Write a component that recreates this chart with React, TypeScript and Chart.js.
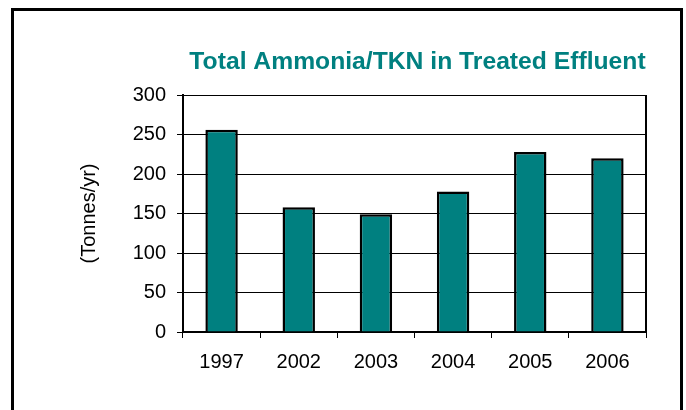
import React, { useEffect, useRef } from "react";
import { Chart, registerables } from "chart.js";

Chart.register(...registerables);

const categories = ["1997", "2002", "2003", "2004", "2005", "2006"];
const values = [256, 158, 149, 178, 228, 220];
const yTicks = [0, 50, 100, 150, 200, 250, 300];
const titleText = "Total Ammonia/TKN in Treated Effluent";
const yTitle = "(Tonnes/yr)";

const FONT = "Arial, 'Liberation Sans', sans-serif";

const framePlugin = {
  id: "framePlugin",
  afterDraw(chart: any) {
    const { ctx, chartArea } = chart;
    ctx.save();
    ctx.strokeStyle = "#000";
    ctx.lineWidth = 2;
    ctx.beginPath();
    ctx.moveTo(chartArea.right, chartArea.top);
    ctx.lineTo(chartArea.right, chartArea.bottom);
    ctx.stroke();
    ctx.fillStyle = "#008080";
    ctx.font = `bold 24.7px ${FONT}`;
    ctx.textAlign = "center";
    ctx.textBaseline = "alphabetic";
    ctx.fillText(titleText, (chartArea.left + chartArea.right) / 2 + 3, 69);
    ctx.restore();
  },
};

export default function App() {
  const ref = useRef<HTMLCanvasElement>(null);
  useEffect(() => {
    if (!ref.current) return;
    const chart = new Chart(ref.current, {
      type: "bar",
      data: {
        labels: categories,
        datasets: [
          {
            data: values,
            backgroundColor: "#008080",
            borderColor: "#000",
            borderWidth: 2.5,
            barPercentage: 0.42,
            categoryPercentage: 1,
          },
        ],
      },
      options: {
        animation: false,
        responsive: true,
        maintainAspectRatio: false,
        layout: { padding: { left: 70, right: 40, top: 95, bottom: 0 } },
        plugins: {
          legend: { display: false },
          title: { display: false },
          tooltip: { enabled: false },
        },
        scales: {
          x: {
            afterFit: (s: any) => {
              s.height = 78;
            },
            grid: {
              drawOnChartArea: false,
              drawTicks: true,
              tickLength: 6,
              color: "#000",
              offset: true,
            },
            border: { color: "#000", width: 2 },
            ticks: {
              color: "#000",
              font: { family: FONT, size: 20 },
              padding: 12,
              maxRotation: 0,
            },
          },
          y: {
            min: 0,
            max: 300,
            afterFit: (s: any) => {
              s.width = 113;
            },
            afterBuildTicks: (s: any) => {
              s.ticks = yTicks.map((v) => ({ value: v }));
            },
            grid: {
              color: "#000",
              lineWidth: 1,
              drawTicks: true,
              tickLength: 6,
            },
            border: { color: "#000", width: 2 },
            ticks: {
              color: "#000",
              font: { family: FONT, size: 20 },
              padding: 11,
            },
            title: {
              display: true,
              text: yTitle,
              color: "#000",
              font: { family: FONT, size: 20 },
              padding: { top: 7, bottom: 0 },
            },
          },
        },
      },
      plugins: [framePlugin],
    });
    return () => chart.destroy();
  }, []);

  return (
    <div
      style={{
        position: "fixed",
        left: 0,
        top: 0,
        width: 686,
        height: 410,
        overflow: "hidden",
        background: "#fff",
      }}
    >
      <div
        style={{
          position: "absolute",
          left: 11,
          top: 8,
          width: 672,
          height: 430,
          boxSizing: "border-box",
          border: "3px solid #000",
        }}
      />
      <div style={{ position: "absolute", left: 0, top: 0, width: 686, height: 410 }}>
        <canvas ref={ref} />
      </div>
    </div>
  );
}
